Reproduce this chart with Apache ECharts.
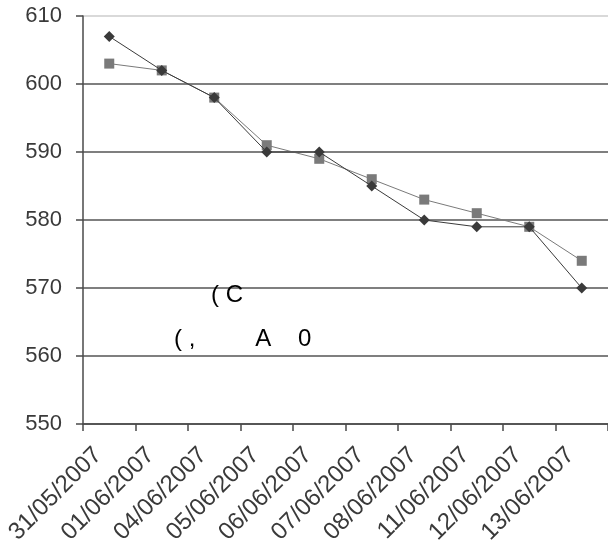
<!DOCTYPE html>
<html>
<head>
<meta charset="utf-8">
<script src="https://cdn.jsdelivr.net/npm/echarts@6/dist/echarts.min.js"></script>
<style>html,body{margin:0;padding:0;background:#fff;}#c{width:608px;height:551px;}</style>
</head>
<body>
<div id="c"></div>
<script>
const categories = ['31/05/2007','01/06/2007','04/06/2007','05/06/2007','06/06/2007','07/06/2007','08/06/2007','11/06/2007','12/06/2007','13/06/2007'];
const seriesDiamond = [607, 602, 598, 590, 590, 585, 580, 579, 579, 570];
const seriesSquare = [603, 602, 598, 591, 589, 586, 583, 581, 579, 574];
const yTicks = { min: 550, max: 610, interval: 10 };
const overlayTexts = ['( C', '( ,         A    0'];

const chart = echarts.init(document.getElementById('c'), null, {renderer: 'canvas'});
chart.setOption({
  animation: false,
  backgroundColor: '#fff',
  grid: { left: 83, top: 16, right: -5, bottom: 127, containLabel: false },
  xAxis: {
    type: 'category',
    data: categories,
    boundaryGap: true,
    axisLine: { show: true, lineStyle: { color: '#4a4a4a', width: 1.5 } },
    axisTick: { show: true, length: 7, inside: false, alignWithLabel: false, lineStyle: { color: '#4a4a4a', width: 1.5 } },
    axisLabel: { rotate: 45, interval: 0, margin: 16, padding: [0, 16, 0, 0], color: '#3a3a3a', fontFamily: 'Liberation Sans, Arial', fontSize: 24 },
    splitLine: { show: false }
  },
  yAxis: {
    type: 'value',
    min: yTicks.min, max: yTicks.max, interval: yTicks.interval,
    axisLine: { show: true, lineStyle: { color: '#4a4a4a', width: 1.5 } },
    axisTick: { show: true, length: 7, lineStyle: { color: '#4a4a4a', width: 1.5 } },
    axisLabel: { margin: 21, color: '#3a3a3a', fontFamily: 'Liberation Sans, Arial', fontSize: 22 },
    splitLine: { show: true, lineStyle: { color: ['#555','#555','#555','#555','#555','#555','#cccccc'], width: 1.5 } }
  },
  series: [
    {
      type: 'line', data: seriesDiamond, symbol: 'diamond', symbolSize: 11,
      itemStyle: { color: '#3a3a3a' }, lineStyle: { color: '#3a3a3a', width: 1 }, z: 3
    },
    {
      type: 'line', data: seriesSquare, symbol: 'rect', symbolSize: 10,
      itemStyle: { color: '#7a7a7a' }, lineStyle: { color: '#7a7a7a', width: 1 }, z: 2
    }
  ],
  graphic: [
    { type: 'text', left: 211, top: 283, style: { text: overlayTexts[0], font: '24px "Liberation Sans", Arial', fill: '#000' }, z: 10 },
    { type: 'text', left: 174, top: 327, style: { text: overlayTexts[1], font: '24px "Liberation Sans", Arial', fill: '#000' }, z: 10 }
  ]
});
</script>
</body>
</html>
